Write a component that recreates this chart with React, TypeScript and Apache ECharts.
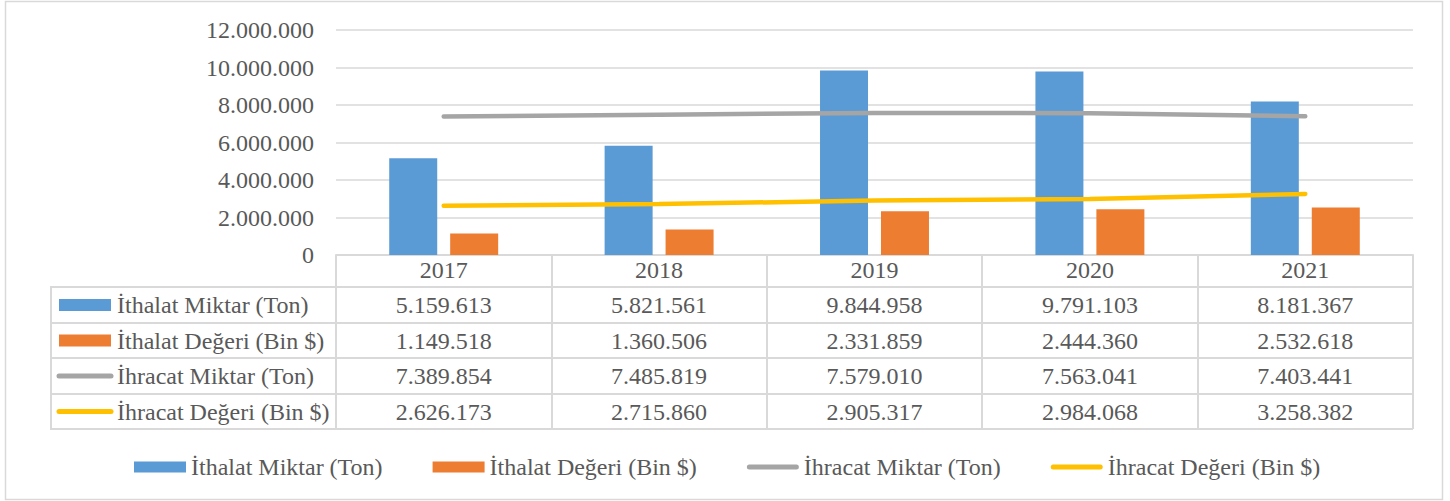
import React, { useEffect, useRef } from "react";
import * as echarts from "echarts";

const years = ["2017", "2018", "2019", "2020", "2021"];
const seriesNames = [
  "İthalat Miktar (Ton)",
  "İthalat Değeri (Bin $)",
  "İhracat Miktar (Ton)",
  "İhracat Değeri (Bin $)",
];
const ithalatMiktar = [5159613, 5821561, 9844958, 9791103, 8181367];
const ithalatDegeri = [1149518, 1360506, 2331859, 2444360, 2532618];
const ihracatMiktar = [7389854, 7485819, 7579010, 7563041, 7403441];
const ihracatDegeri = [2626173, 2715860, 2905317, 2984068, 3258382];
const colors = ["#5B9BD5", "#ED7D31", "#A5A5A5", "#FFC000"];
const yTicks = { min: 0, max: 12000000, interval: 2000000 };

const fmt = (n: number) => String(Math.round(n)).replace(/\B(?=(\d{3})+(?!\d))/g, ".");

const FONT = "Liberation Serif";
const FS = 24;
const TXT = "#595959";
const BORDER = "#D9D9D9";
const PILL = "path://M2.5,0 L49.5,0 A2.5,2.5 0 0 1 49.5,5 L2.5,5 A2.5,2.5 0 0 1 2.5,0 Z";

export default function App() {
  const ref = useRef<HTMLDivElement>(null);
  useEffect(() => {
    if (!ref.current) return;
    const chart = echarts.init(ref.current, undefined, { renderer: "svg" });
    const option: any = {
      animation: false,
      backgroundColor: "#ffffff",
      textStyle: { fontFamily: FONT },
      grid: { left: 336, right: 37, top: 30, bottom: 246, containLabel: false },
      xAxis: {
        type: "category",
        data: years,
        boundaryGap: true,
        axisLine: { show: true, lineStyle: { color: BORDER, width: 2 } },
        axisTick: { show: true, length: 174, lineStyle: { color: BORDER, width: 2 } },
        axisLabel: {
          color: TXT,
          fontFamily: FONT,
          fontSize: FS,
          margin: 15,
          verticalAlign: "middle",
        },
        splitLine: { show: false },
      },
      yAxis: {
        type: "value",
        min: yTicks.min,
        max: yTicks.max,
        interval: yTicks.interval,
        axisLine: { show: false },
        axisTick: { show: false },
        axisLabel: {
          color: TXT,
          fontFamily: FONT,
          fontSize: FS,
          margin: 22,
          formatter: (v: number) => fmt(v),
        },
        splitLine: { show: true, lineStyle: { color: BORDER, width: 1.5 } },
      },
      legend: {
        data: [
          { name: seriesNames[0], icon: "rect" },
          { name: seriesNames[1], icon: "rect" },
          { name: seriesNames[2], icon: PILL },
          { name: seriesNames[3], icon: PILL },
        ],
        left: 129,
        top: 450,
        itemWidth: 52,
        itemHeight: 11,
        itemGap: 50,
        textStyle: { color: TXT, fontFamily: FONT, fontSize: FS },
      },
      series: [
        {
          name: seriesNames[0],
          type: "bar",
          data: ithalatMiktar,
          barWidth: 48,
          barGap: "27%",
          itemStyle: { color: colors[0] },
        },
        {
          name: seriesNames[1],
          type: "bar",
          data: ithalatDegeri,
          barWidth: 48,
          barGap: "27%",
          itemStyle: { color: colors[1] },
        },
        {
          name: seriesNames[2],
          type: "line",
          data: ihracatMiktar,
          symbol: "none",
          lineStyle: { color: colors[2], width: 4.5, cap: "round" },
          itemStyle: { color: colors[2] },
          z: 5,
        },
        {
          name: seriesNames[3],
          type: "line",
          data: ihracatDegeri,
          symbol: "none",
          lineStyle: { color: colors[3], width: 4.5, cap: "round" },
          itemStyle: { color: colors[3] },
          z: 5,
        },
      ],
    };
    chart.setOption(option);

    const rowsData = [ithalatMiktar, ithalatDegeri, ihracatMiktar, ihracatDegeri];
    const rowY = [287, 323, 358, 394, 429];
    const tableLeft = 51;
    const tableRight = 1413;
    const elements: any[] = [];
    elements.push({
      type: "rect",
      shape: { x: 5.5, y: 1.5, width: 1437, height: 498 },
      style: { fill: "none", stroke: BORDER, lineWidth: 1.5 },
      silent: true,
    });
    rowY.forEach((y) => {
      elements.push({
        type: "line",
        shape: { x1: tableLeft, y1: y, x2: tableRight, y2: y },
        style: { stroke: BORDER, lineWidth: 2 },
        silent: true,
      });
    });
    elements.push({
      type: "line",
      shape: { x1: tableLeft, y1: rowY[0] - 1, x2: tableLeft, y2: rowY[4] + 1 },
      style: { stroke: BORDER, lineWidth: 2 },
      silent: true,
    });
    rowsData.forEach((row, r) => {
      const cy = (rowY[r] + rowY[r + 1]) / 2;
      if (r < 2) {
        elements.push({
          type: "rect",
          shape: { x: 59, y: cy - 6, width: 52, height: 12 },
          style: { fill: colors[r] },
          silent: true,
        });
      } else {
        elements.push({
          type: "line",
          shape: { x1: 59, y1: cy, x2: 111, y2: cy },
          style: { stroke: colors[r], lineWidth: 5, lineCap: "round" },
          silent: true,
        });
      }
      elements.push({
        type: "text",
        x: 117,
        y: cy,
        style: {
          text: seriesNames[r],
          fill: TXT,
          fontFamily: FONT,
          fontSize: FS,
          align: "left",
          verticalAlign: "middle",
        },
        silent: true,
      });
      row.forEach((v, i) => {
        const px = chart.convertToPixel({ xAxisIndex: 0 }, i) as number;
        elements.push({
          type: "text",
          x: px,
          y: cy,
          style: {
            text: fmt(v),
            fill: TXT,
            fontFamily: FONT,
            fontSize: FS,
            align: "center",
            verticalAlign: "middle",
          },
          silent: true,
        });
      });
    });
    chart.setOption({ graphic: { elements } });

    return () => chart.dispose();
  }, []);
  return (
    <div
      ref={ref}
      style={{ position: "fixed", left: 0, top: 0, width: 1450, height: 501, background: "#fff" }}
    />
  );
}
